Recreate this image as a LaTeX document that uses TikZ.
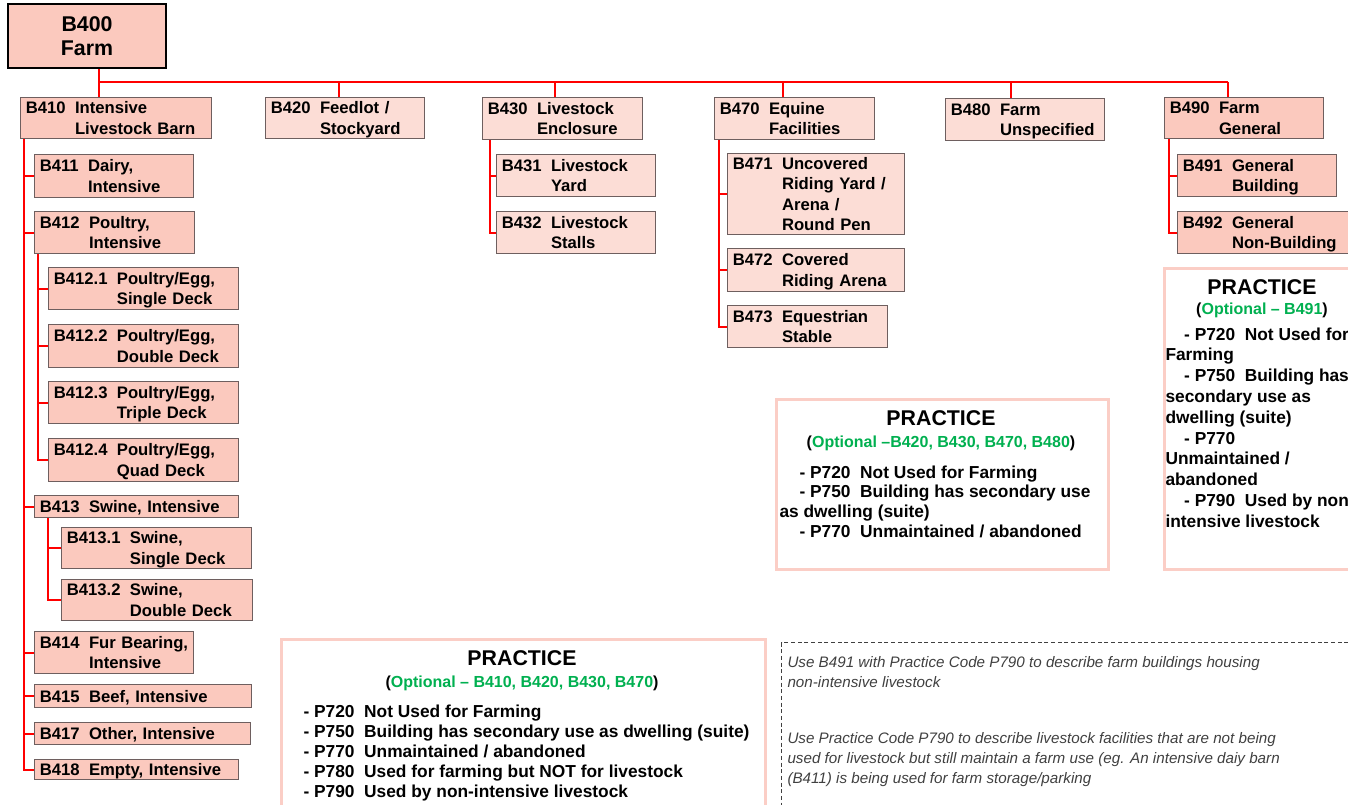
\documentclass[tikz,border=0pt]{standalone}
\usepackage{fontspec}
\setmainfont{Liberation Sans}
\usetikzlibrary{calc}

\definecolor{boxdark}{RGB}{251,201,190}
\definecolor{boxlight}{RGB}{252,221,214}
\definecolor{boxedge}{RGB}{110,95,95}
\definecolor{linkred}{RGB}{255,0,0}
\definecolor{pracedge}{RGB}{251,206,198}
\definecolor{optgreen}{RGB}{0,176,80}
\definecolor{notegray}{RGB}{64,64,64}

\newcommand{\bldg}[2]{\raisebox{-1.5pt}[\height][\depth]{\begin{tabular}{@{}l@{\hspace{7pt}}l@{}}#1&\begin{tabular}[t]{@{}l@{}}#2\end{tabular}\end{tabular}}}
\newcommand{\twosp}{\ \ }

\tikzset{every picture/.style={line width=0.75pt}}
\tikzset{
  boxsize/.style 2 args={minimum width=#1*0.75pt, minimum height=#2*0.75pt, text width=#1*0.75pt-8pt},
  catbox/.style={draw=boxedge, anchor=north west, inner xsep=4pt, inner ysep=0pt, align=left, font=\bfseries\fontsize{12.5}{15.2}\selectfont},
  darkbox/.style={catbox, fill=boxdark},
  lightbox/.style={catbox, fill=boxlight},
  rootbox/.style={draw=black, line width=1.5pt, fill=boxdark, anchor=north west, inner xsep=4pt, inner ysep=0pt, align=center, font=\bfseries\fontsize{16}{18}\selectfont},
  link/.style={draw=linkred, line width=1.5pt},
  pracbox/.style={draw=pracedge, line width=2.25pt, fill=white, anchor=north west, inner sep=0pt},
  practitle/.style={font=\bfseries\fontsize{16}{19}\selectfont, inner sep=0pt},
  pracopt/.style={font=\bfseries\fontsize{12}{15}\selectfont, inner sep=0pt},
  praclist/.style={font=\bfseries\fontsize{13}{14.8}\selectfont, anchor=north west, align=left, inner sep=0pt},
  notebox/.style={draw=black!75, dash pattern=on 3pt off 2pt, anchor=north west, inner sep=0pt},
  notetext/.style={font=\itshape\fontsize{11.4}{15}\selectfont, text=notegray, anchor=north west, align=left, inner sep=0pt},
}

\begin{document}
\begin{tikzpicture}[x=0.75pt,y=0.75pt,yscale=-1,xscale=1]
  \useasboundingbox (0,0) rectangle (1348,804);

  % root and first level
  \node[rootbox, boxsize={158}{64}] (b400) at (7,3) {B400\\Farm};

  \node[darkbox, boxsize={191}{41}] (b410) at (20,97) {\bldg{B410}{Intensive\\Livestock Barn}};
  \node[lightbox, boxsize={159}{41}] (b420) at (265,97) {\bldg{B420}{Feedlot /\\Stockyard}};
  \node[lightbox, boxsize={160}{42}] (b430) at (482,97) {\bldg{B430}{Livestock\\Enclosure}};
  \node[lightbox, boxsize={160}{42}] (b470) at (714,97) {\bldg{B470}{Equine\\Facilities}};
  \node[lightbox, boxsize={159}{42}] (b480) at (945,98) {\bldg{B480}{Farm\\Unspecified}};
  \node[darkbox, boxsize={159}{41}] (b490) at (1164,97) {\bldg{B490}{Farm\\General}};

  % B410 branch
  \node[darkbox, boxsize={159}{43}] (b411) at (34,154) {\bldg{B411}{Dairy,\\Intensive}};
  \node[darkbox, boxsize={160}{42}] (b412) at (34,211) {\bldg{B412}{Poultry,\\Intensive}};
  \node[darkbox, boxsize={190}{42}] (b4121) at (48,267) {\bldg{B412.1}{Poultry/Egg,\\Single Deck}};
  \node[darkbox, boxsize={190}{43}] (b4122) at (48,324) {\bldg{B412.2}{Poultry/Egg,\\Double Deck}};
  \node[darkbox, boxsize={190}{42}] (b4123) at (48,381) {\bldg{B412.3}{Poultry/Egg,\\Triple Deck}};
  \node[darkbox, boxsize={190}{43}] (b4124) at (48,438) {\bldg{B412.4}{Poultry/Egg,\\Quad Deck}};
  \node[darkbox, boxsize={204}{22}] (b413) at (34,495) {\bldg{B413}{Swine, Intensive}};
  \node[darkbox, boxsize={190}{41}] (b4131) at (61,527) {\bldg{B413.1}{Swine,\\Single Deck}};
  \node[darkbox, boxsize={191}{41}] (b4132) at (61,579) {\bldg{B413.2}{Swine,\\Double Deck}};
  \node[darkbox, boxsize={159}{42}] (b414) at (34,631) {\bldg{B414}{Fur Bearing,\\Intensive}};
  \node[darkbox, boxsize={217}{23}] (b415) at (34,684) {\bldg{B415}{Beef, Intensive}};
  \node[darkbox, boxsize={216}{22}] (b417) at (34,722) {\bldg{B417}{Other, Intensive}};
  \node[darkbox, boxsize={204}{20}] (b418) at (34,759) {\bldg{B418}{Empty, Intensive}};

  % B430, B470, B490 branches
  \node[lightbox, boxsize={159}{42}] (b431) at (496,154) {\bldg{B431}{Livestock\\Yard}};
  \node[lightbox, boxsize={159}{42}] (b432) at (496,211) {\bldg{B432}{Livestock\\Stalls}};
  \node[lightbox, boxsize={177}{81}] (b471) at (727,153) {\bldg{B471}{Uncovered\\Riding Yard /\\Arena /\\Round Pen}};
  \node[lightbox, boxsize={177}{43}] (b472) at (727,248) {\bldg{B472}{Covered\\Riding Arena}};
  \node[lightbox, boxsize={160}{42}] (b473) at (727,305) {\bldg{B473}{Equestrian\\Stable}};
  \node[darkbox, boxsize={159}{42}] (b491) at (1177,154) {\bldg{B491}{General\\Building}};
  \node[darkbox, boxsize={190}{42}] (b492) at (1177,211) {\bldg{B492}{General\\Non-Building}};

  % connectors
  \coordinate (bus) at (0,82);
  \foreach \n/\f in {b410/0.41, b420/0.46, b430/0.456, b470/0.43, b480/0.415, b490/0.40}{
    \coordinate (\n-top) at ($(\n.north west)!\f!(\n.north east)$);
    \draw[link] (\n-top) -- (\n-top |- bus);
  }
  \coordinate (b400-bot) at ($(b400.south west)!0.576!(b400.south east)$);
  \draw[link] (b400-bot) -- (b400-bot |- bus) -- (b490-top |- bus);

  \foreach \c in {b411,b412,b413,b414,b415,b417,b418}
    \draw[link] ([xshift=3pt]b410.south west) |- (\c.west);
  \foreach \c in {b4121,b4122,b4123,b4124}
    \draw[link] ([xshift=3pt]b412.south west) |- (\c.west);
  \foreach \c in {b4131,b4132}
    \draw[link] ([xshift=10.5pt]b413.south west) |- (\c.west);
  \foreach \c in {b431,b432}
    \draw[link] ([xshift=6pt]b430.south west) |- (\c.west);
  \foreach \c in {b471,b472,b473}
    \draw[link] ([xshift=3.75pt]b470.south west) |- (\c.west);
  \foreach \c in {b491,b492}
    \draw[link] ([xshift=3.75pt]b490.south west) |- (\c.west);

  % practice boxes
  \node[pracbox, boxsize={332}{170}] (prac1) at (775,398) {};
  \node[practitle] (prac1title) at (941,418) {PRACTICE};
  \node[pracopt] (prac1opt) at (941,443) {(\textcolor{optgreen}{Optional –B420, B430, B470, B480})};
  \node[praclist] (prac1list) at (779,465) {\hspace*{15pt}- P720\twosp Not Used for Farming\\
    \hspace*{15pt}- P750\twosp Building has secondary use\\
    as dwelling (suite)\\
    \hspace*{15pt}- P770\twosp Unmaintained / abandoned};

  \node[pracbox, boxsize={220}{301}] (prac2) at (1163,267) {};
  \node[practitle] (prac2title) at (1262,287) {PRACTICE};
  \node[pracopt] (prac2opt) at (1262,310) {(\textcolor{optgreen}{Optional – B491})};
  \node[praclist, font=\bfseries\fontsize{13}{15.6}\selectfont] (prac2list) at (1165,327) {\hspace*{14pt}- P720\twosp Not Used for\\
    Farming\\
    \hspace*{14pt}- P750\twosp Building has\\
    secondary use as\\
    dwelling (suite)\\
    \hspace*{14pt}- P770\\
    Unmaintained /\\
    abandoned\\
    \hspace*{14pt}- P790\twosp Used by non\\
    intensive livestock};

  \node[pracbox, boxsize={484}{200}] (prac3) at (280,638) {};
  \node[practitle] (prac3title) at (522,658) {PRACTICE};
  \node[pracopt] (prac3opt) at (522,683) {(\textcolor{optgreen}{Optional – B410, B420, B430, B470})};
  \node[praclist, font=\bfseries\fontsize{13}{15}\selectfont] (prac3list) at (303,704) {- P720\twosp Not Used for Farming\\
    - P750\twosp Building has secondary use as dwelling (suite)\\
    - P770\twosp Unmaintained / abandoned\\
    - P780\twosp Used for farming but NOT for livestock\\
    - P790\twosp Used by non-intensive livestock};

  % note
  \node[notebox, boxsize={600}{200}] (note) at (781,642) {};
  \node[notetext] (notetxt) at (787,656) {Use B491 with Practice Code P790 to describe farm buildings housing\\
    non-intensive livestock\\[27pt]
    Use Practice Code P790 to describe livestock facilities that are not being\\
    used for livestock but still maintain a farm use (eg. An intensive daiy barn\\
    (B411) is being used for farm storage/parking};

\end{tikzpicture}
\end{document}
